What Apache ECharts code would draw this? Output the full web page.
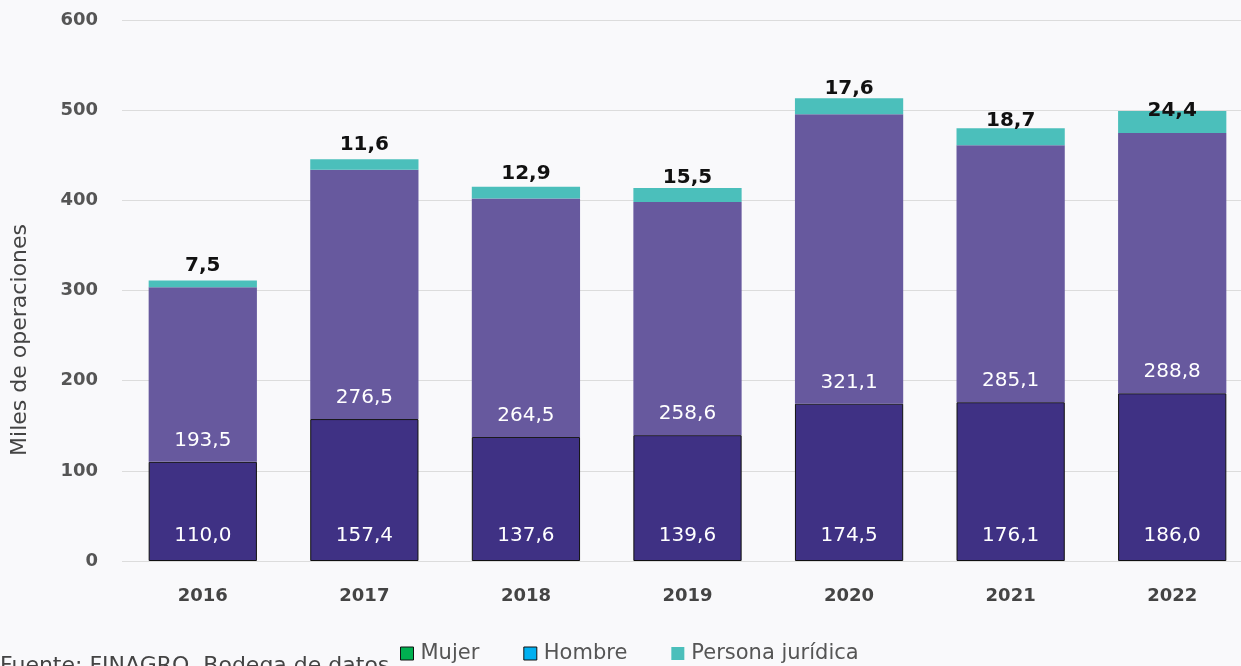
<!DOCTYPE html>
<html>
<head>
<meta charset="utf-8">
<script src="https://cdn.jsdelivr.net/npm/echarts@6/dist/echarts.min.js"></script>
<style>
  html, body { margin: 0; padding: 0; background: #f9f9fb; }
  #chart { width: 1241px; height: 666px; }
</style>
</head>
<body>
<div id="chart"></div>
<script>
const years = ["2016", "2017", "2018", "2019", "2020", "2021", "2022"];
const mujer = [110.0, 157.4, 137.6, 139.6, 174.5, 176.1, 186.0];
const hombre = [193.5, 276.5, 264.5, 258.6, 321.1, 285.1, 288.8];
const juridica = [7.5, 11.6, 12.9, 15.5, 17.6, 18.7, 24.4];
// the top labels in the original sit at slightly uneven heights
const topLabelNudge = [-2, -2, 0, 3, 4, 6, 13];

const fmt = (v) => v.toFixed(1).replace(".", ",");
const font = "DejaVu Sans";

const chart = echarts.init(document.getElementById("chart"));
chart.setOption({
  backgroundColor: "#f9f9fb",
  animation: false,
  textStyle: { fontFamily: font },
  grid: { left: 122, right: -12, top: 20, bottom: 105, outerBoundsMode: "none" },
  legend: {
    top: 638,
    left: 395,
    itemWidth: 13,
    itemHeight: 13,
    itemGap: 44,
    textStyle: { fontSize: 21, color: "#555", fontFamily: font, padding: [0, 0, 0, 2] },
    data: [
      { name: "Mujer", icon: "rect", itemStyle: { color: "#00b050", borderColor: "#111", borderWidth: 1 } },
      { name: "Hombre", icon: "rect", itemStyle: { color: "#00b0f0", borderColor: "#111", borderWidth: 1 } },
      { name: "Persona jurídica", icon: "rect", itemStyle: { color: "#4bbfbb", borderWidth: 0 } },
    ],
  },
  xAxis: {
    type: "category",
    data: years,
    axisLine: { show: false },
    axisTick: { show: false },
    axisLabel: { fontSize: 18, fontWeight: 700, color: "#444", margin: 26 },
  },
  yAxis: {
    type: "value",
    min: 0,
    max: 600,
    interval: 100,
    axisLabel: { fontSize: 18, fontWeight: 700, color: "#555", margin: 24 },
    splitLine: { lineStyle: { color: "#dcdcdc", width: 1 } },
  },
  graphic: [
    {
      type: "text",
      x: 20,
      y: 340,
      rotation: Math.PI / 2,
      style: {
        text: "Miles de operaciones",
        fontSize: 22,
        fontFamily: font,
        fill: "#444",
        textAlign: "center",
        textVerticalAlign: "middle",
      },
    },
    {
      type: "text",
      left: 0,
      top: 655,
      style: { text: "Fuente: FINAGRO, Bodega de datos", fontSize: 22, fontFamily: font, fill: "#444" },
    },
  ],
  series: [
    {
      name: "Mujer",
      type: "bar",
      stack: "total",
      data: mujer,
      barWidth: "67%",
      itemStyle: { color: "#3f3184", borderColor: "#111", borderWidth: 1 },
      label: {
        show: true,
        position: "insideBottom",
        distance: 15,
        color: "#fff",
        fontSize: 20,
        formatter: (p) => fmt(p.value),
      },
    },
    {
      name: "Hombre",
      type: "bar",
      stack: "total",
      data: hombre,
      itemStyle: { color: "#67599e" },
      label: {
        show: true,
        position: "insideBottom",
        distance: 11,
        color: "#fff",
        fontSize: 20,
        formatter: (p) => fmt(p.value),
      },
    },
    {
      name: "Persona jurídica",
      type: "bar",
      stack: "total",
      data: juridica.map((v, i) => ({ value: v, label: { offset: [0, topLabelNudge[i]] } })),
      itemStyle: { color: "#4bbfbb" },
      label: {
        show: true,
        position: "top",
        distance: 3,
        color: "#111",
        fontSize: 20,
        fontWeight: 700,
        formatter: (p) => fmt(p.value),
      },
    },
  ],
});
</script>
</body>
</html>
